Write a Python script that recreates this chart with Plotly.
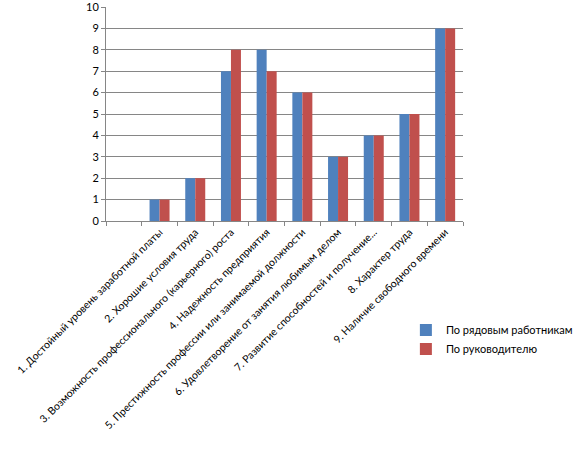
import plotly.graph_objects as go

categories = [
    " ",
    "1. Достойный уровень заработной платы",
    "2. Хорошие условия труда",
    "3. Возможность профессионального (карьерного) роста",
    "4. Надежность предприятия",
    "5. Престижность профессии или занимаемой должности",
    "6. Удовлетворение от занятия любимым делом",
    "7. Развитие способностей и получение...",
    "8. Характер труда",
    "9. Наличие свободного времени",
]
workers = [None, 1, 2, 7, 8, 6, 3, 4, 5, 9]
manager = [None, 1, 2, 8, 7, 6, 3, 4, 5, 9]
series_names = ["По рядовым работникам", "По руководителю"]
y_ticks = list(range(0, 11))

FONT = "Lato"
GRID = "#868686"

fig = go.Figure()
fig.add_trace(go.Bar(x=categories, y=workers, name=series_names[0], legendgroup="a",
                     marker=dict(color="#4F81BD", line=dict(width=0))))
fig.add_trace(go.Bar(x=categories, y=manager, name=series_names[1], legendgroup="b",
                     marker=dict(color="#C0504D", line=dict(width=0))))

fig.update_layout(
    width=579, height=452,
    margin=dict(l=106, r=116, t=7, b=231, pad=0, autoexpand=False),
    paper_bgcolor="white", plot_bgcolor="white",
    font=dict(family=FONT, size=11, color="black"),
    barmode="group", bargap=0.44, bargroupgap=0,
    showlegend=True,
    legend=dict(x=0.84, y=-0.554, xanchor="left", yanchor="middle",
                bgcolor="rgba(0,0,0,0)", font=dict(family=FONT, size=11),
                itemwidth=30, tracegroupgap=0),
    xaxis=dict(
        type="category", tickangle=-45, showgrid=False, automargin=False,
        showline=True, linecolor=GRID, linewidth=1,
        ticks="outside", ticklen=4, tickcolor=GRID, tickson="boundaries",
        tickfont=dict(family=FONT, size=10.5, color="black"), ticklabeloverflow="allow",
    ),
    yaxis=dict(
        range=[0, 10], tickvals=y_ticks, showgrid=True, gridcolor=GRID, gridwidth=1,
        showline=True, linecolor=GRID, linewidth=1, automargin=False,
        ticks="outside", ticklen=4, tickcolor=GRID, ticklabeloverflow="allow",
        tickfont=dict(family=FONT, size=11, color="black"), zeroline=False,
    ),
)

fig.write_html("out.html", config={"displayModeBar": False},
               post_script="document.body.style.margin='0';")
